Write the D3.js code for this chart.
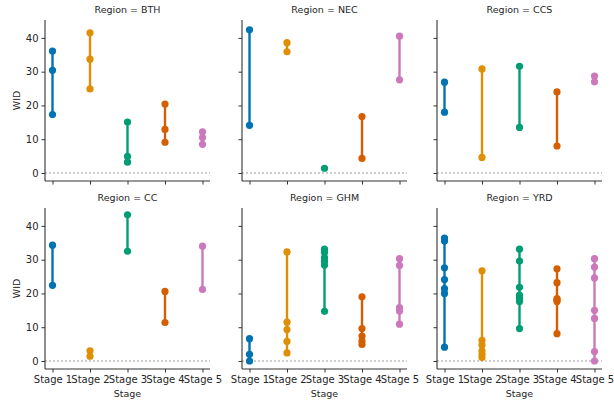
<!DOCTYPE html>
<html>
<head>
<meta charset="utf-8">
<script src="https://cdn.jsdelivr.net/npm/d3@7"></script>
<style>
  body { margin: 0; background: #fff; }
  text { font-family: "DejaVu Sans", sans-serif; fill: #262626; }
</style>
</head>
<body>
<div id="chart"></div>
<script>
// categories
var stages = ["Stage 1", "Stage 2", "Stage 3", "Stage 4", "Stage 5"];
var regions = ["BTH", "NEC", "CCS", "CC", "GHM", "YRD"];
var yTicks = [0, 10, 20, 30, 40];
var colors = ["#0173b2", "#de8f05", "#029e73", "#d55e00", "#cc78bc"];

// WID values per stage
var bth = [[36.1, 30.4, 17.3], [41.5, 33.7, 24.9], [15.1, 4.9, 3.2], [20.4, 12.9, 9.1], [12.2, 10.5, 8.5]];
var nec = [[42.4, 14.1], [38.6, 35.9], [1.4], [16.7, 4.3], [40.5, 27.6]];
var ccs = [[26.9, 18.0], [30.8, 4.6], [31.6, 13.5], [24.0, 8.0], [28.7, 27.0]];
var cc = [[34.3, 22.4], [3.0, 1.4], [43.3, 32.5], [20.6, 11.4], [34.0, 21.2]];
var ghm = [[6.6, 2.0, 0.0], [32.3, 11.5, 9.3, 5.8, 2.4], [33.1, 32.1, 30.6, 29.5, 28.4, 14.7],
  [19.0, 9.6, 7.4, 5.9, 4.9], [30.3, 28.3, 15.8, 14.8, 10.9]];
var yrd = [[36.4, 35.5, 27.6, 24.1, 21.4, 20.0, 4.1], [26.7, 6.1, 4.7, 3.0, 2.0, 1.0],
  [33.1, 29.6, 21.8, 19.5, 18.5, 17.6, 9.6], [27.3, 23.2, 18.5, 18.0, 17.6, 8.1],
  [30.3, 27.8, 24.6, 15.0, 12.6, 2.8, 0.0]];
var regionData = [bth, nec, ccs, cc, ghm, yrd];

var svgWidth = 614, svgHeight = 402;
var panelLeft = [45, 242, 437];
var panelTop = [20, 208];
var pw = 165, ph = 161;

var svg = d3.select("#chart").append("svg")
  .attr("width", svgWidth)
  .attr("height", svgHeight);

// shared scales (matplotlib-like margins)
var x = d3.scaleLinear().domain([-0.2, 4.2]).range([0, pw]);
var y = d3.scaleLinear().domain([-2.37, 45.3]).range([ph, 0]);

regions.forEach(function(reg, i) {
  var col = i % 3, row = Math.floor(i / 3);
  var g = svg.append("g")
    .attr("transform", `translate(${panelLeft[col]}, ${panelTop[row]})`);

  // zero reference line
  g.append("line")
    .attr("x1", 0).attr("x2", pw)
    .attr("y1", y(0)).attr("y2", y(0))
    .attr("stroke", "#9a9a9a")
    .attr("stroke-width", 1)
    .attr("stroke-dasharray", "2,2");

  // axes
  var leftAxis = d3.axisLeft(y).tickValues(yTicks).tickSize(3.5).tickPadding(3)
    .tickFormat(col == 0 ? d3.format("d") : "");
  var bottomAxis = d3.axisBottom(x).tickValues([0, 1, 2, 3, 4]).tickSize(3.5).tickPadding(3)
    .tickFormat(row == 1 ? (d => stages[d]) : "");

  var ya = g.append("g").call(leftAxis);
  var xa = g.append("g").attr("transform", `translate(0, ${ph})`).call(bottomAxis);
  [ya, xa].forEach(function(a) {
    a.select(".domain").attr("stroke", "#333").attr("stroke-width", 1.1);
    a.selectAll(".tick line").attr("stroke", "#333");
    a.selectAll("text").attr("font-size", 10).attr("fill", "#262626")
      .attr("font-family", "DejaVu Sans, sans-serif");
  });
  // spines without end caps
  xa.select(".domain").attr("d", `M0,0H${pw}`);
  ya.select(".domain").attr("d", `M0,0V${ph}`);

  // title
  svg.append("text")
    .attr("x", panelLeft[col] + pw / 2)
    .attr("y", panelTop[row] - 7)
    .attr("text-anchor", "middle")
    .attr("font-size", 9.5)
    .text("Region = " + reg);

  // range lines and points
  regionData[i].forEach(function(vals, s) {
    g.append("line")
      .attr("x1", x(s)).attr("x2", x(s))
      .attr("y1", y(d3.min(vals))).attr("y2", y(d3.max(vals)))
      .attr("stroke", colors[s])
      .attr("stroke-width", 2.4);
    g.selectAll(null)
      .data(vals)
      .enter()
      .append("circle")
      .attr("cx", x(s))
      .attr("cy", d => y(d))
      .attr("r", 3.6)
      .attr("fill", colors[s]);
  });

  if (col == 0) {
    g.append("text")
      .attr("transform", "rotate(-90)")
      .attr("x", -ph / 2)
      .attr("y", -25)
      .attr("text-anchor", "middle")
      .attr("font-size", 9.5)
      .text("WID");
  }
  if (row == 1) {
    g.append("text")
      .attr("x", pw / 2)
      .attr("y", ph + 28)
      .attr("text-anchor", "middle")
      .attr("font-size", 9.5)
      .text("Stage");
  }
});
</script>
</body>
</html>
